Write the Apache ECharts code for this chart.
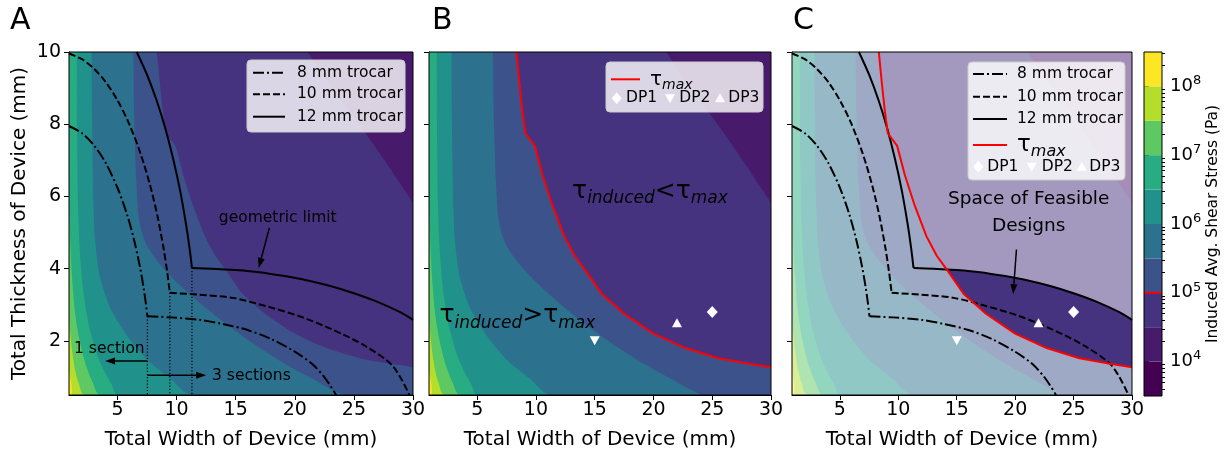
<!DOCTYPE html>
<html><head><meta charset="utf-8">
<script src="https://cdn.jsdelivr.net/npm/echarts@6.0.0/dist/echarts.min.js"></script>
<style>html,body{margin:0;padding:0;background:#fff;}#chart{width:1225px;height:455px;}</style>
</head><body><div id="chart"></div>
<script>
const FONT = 'DejaVu Sans';

// ---------------- axes ----------------
const xMin = 0.9, xMax = 30, yMin = 0.5, yMax = 10;
const xTickValues = [5, 10, 15, 20, 25, 30];
const yTickValues = [2, 4, 6, 8, 10];

// colour bar: band edges as exponents of 10 (Pa)
const levelExponents = [3.5, 4, 4.5, 5, 5.5, 6, 6.5, 7, 7.5, 8, 8.5];
const colorbarTickExponents = [4, 5, 6, 7, 8];
const bandColors = ['#440154', '#481a6c', '#46337f', '#3b528b', '#2c718e', '#21918c', '#27ad81', '#5ec962', '#b5de2b', '#fde725'];
const tauMaxExponent = 5;

// ---------------- filled-contour boundaries (width mm, thickness mm) ----------------
const contour_1e8 = [[0.9, 1.25], [1.0, 1.0], [1.12, 0.75], [1.25, 0.5]];
const contour_1e7_5 = [[0.9, 2.7], [1.0, 2.25], [1.15, 1.75], [1.38, 1.25], [1.7, 0.85], [2.2, 0.5]];
const contour_1e7 = [[0.9, 5.87], [1.0, 4.8], [1.15, 3.8], [1.4, 2.8], [1.8, 2.0], [2.35, 1.3], [2.9, 0.85], [3.5, 0.5]];
const contour_1e6_5 = [[1.55, 10], [1.58, 8], [1.65, 6], [1.8, 4.6], [2.1, 3.4], [2.6, 2.4], [3.3, 1.6], [3.9, 1.15], [4.5, 0.8], [5.0, 0.5]];
const contour_1e6 = [[2.82, 10], [2.86, 8], [2.95, 6], [3.1, 4.8], [3.5, 3.8], [4.4, 2.9], [5.8, 2.15], [7.6, 1.45], [9.5, 0.95], [11.2, 0.5]];
const contour_1e5_5 = [[6.35, 10], [6.42, 8.2], [6.6, 6.4], [6.85, 5.3], [7.4, 4.7], [8.4, 4.2], [10.1, 3.6], [12.5, 2.9], [15.5, 2.15], [18.5, 1.5], [21.5, 0.95], [24.3, 0.5]];
const tauMax = [[8.33, 10], [8.6, 9.1], [8.85, 8.35], [9.1, 7.75], [9.9, 7.4], [10.55, 6.6], [11.4, 5.75], [12.4, 4.9], [13.3, 4.35], [14.2, 3.95], [15.6, 3.3], [17.5, 2.75], [20, 2.2], [22.7, 1.8], [25.5, 1.52], [28, 1.37], [30, 1.27]];
const contour_1e4_5 = [[21.1, 10], [22.5, 9.3], [24.2, 8.55], [26.1, 7.7], [27.9, 6.85], [30, 5.82]];

// ---------------- trocar limits (one-section arc, then three-section arc) ----------------
const trocar8mmOne = [[0.9, 7.95], [2, 7.75], [3, 7.42], [4, 6.93], [5, 6.24], [5.8, 5.51], [6.4, 4.8], [6.9, 4.05], [7.2, 3.49], [7.4, 3.04], [7.53, 2.68]];
const trocar8mmThree = [[7.53, 2.68], [9.5, 2.65], [12, 2.58], [14, 2.46], [16, 2.3], [18, 2.05], [20, 1.7], [21.5, 1.35], [22.6, 0.95], [23.5, 0.5]];
const trocar10mmOne = [[0.9, 9.96], [2, 9.8], [3, 9.54], [4, 9.17], [5, 8.66], [6, 8.0], [7, 7.14], [7.8, 6.26], [8.4, 5.43], [8.9, 4.56], [9.2, 3.92], [9.43, 3.33]];
const trocar10mmThree = [[9.43, 3.33], [11.9, 3.28], [14.75, 3.19], [17.57, 2.96], [20.4, 2.68], [23.2, 2.31], [26, 1.85], [28.3, 1.3], [29.7, 0.5]];
const trocar12mmOne = [[6.63, 10], [7.5, 9.37], [8.3, 8.67], [9.0, 7.94], [9.7, 7.06], [10.3, 6.16], [10.8, 5.23], [11.1, 4.56], [11.3, 4.02]];
const trocar12mmThree = [[11.3, 4.02], [13, 4.0], [15, 3.96], [17, 3.9], [19, 3.8], [21, 3.68], [23, 3.52], [25, 3.32], [27, 3.08], [29, 2.78], [30, 2.58]];
const sectionSplitWidths = [7.53, 9.43, 11.3];
const sectionSplitTops = [2.68, 3.33, 4.02];

// ---------------- design points ----------------
const DP1 = [25, 2.8];
const DP2 = [15, 2.0];
const DP3 = [22, 2.5];
const feasibleStart = [14.2, 3.97];

// ---------------- helpers ----------------
const contourLayers = [
  { pts: null, color: bandColors[9] },
  { pts: contour_1e8, color: bandColors[8] },
  { pts: contour_1e7_5, color: bandColors[7] },
  { pts: contour_1e7, color: bandColors[6] },
  { pts: contour_1e6_5, color: bandColors[5] },
  { pts: contour_1e6, color: bandColors[4] },
  { pts: contour_1e5_5, color: bandColors[3] },
  { pts: tauMax, color: bandColors[2] },
  { pts: contour_1e4_5, color: bandColors[1] }
];

function layerPolygon(p) {
  if (!p) return [[xMin, yMin], [xMax, yMin], [xMax, yMax], [xMin, yMax]];
  const s = p[0], e = p[p.length - 1];
  return p.concat([[xMax, e[1]], [xMax, yMax], [s[0], yMax]]);
}

function contourSeries(g) {
  return {
    type: 'custom', xAxisIndex: g, yAxisIndex: g, clip: true, silent: true, z: 1,
    data: contourLayers.map((l, i) => [xMin, yMin, i]),
    renderItem: (params, api) => {
      const layer = contourLayers[params.dataIndex];
      return { type: 'polygon', shape: { points: layerPolygon(layer.pts).map(q => api.coord(q)), smooth: 0.25 }, style: { fill: layer.color } };
    }
  };
}

function lineSeries(g, data, type, color, width, z, smooth) {
  return {
    type: 'line', xAxisIndex: g, yAxisIndex: g, data: data, showSymbol: false, symbol: 'none',
    clip: true, silent: true, z: z || 4, animation: false, smooth: smooth || false,
    lineStyle: { color: color, width: width, type: type, cap: 'butt' }
  };
}

const dashDot = [11, 3, 2, 3];
const dashed = [7, 3];
const dotted = [1.2, 2];

function trocarSeries(g) {
  return [
    lineSeries(g, trocar8mmOne, dashDot, '#000', 2, 4, 0.3),
    lineSeries(g, trocar8mmThree, dashDot, '#000', 2, 4, 0.3),
    lineSeries(g, trocar10mmOne, dashed, '#000', 2, 4, 0.3),
    lineSeries(g, trocar10mmThree, dashed, '#000', 2, 4, 0.3),
    lineSeries(g, trocar12mmOne, 'solid', '#000', 2, 4, 0.3),
    lineSeries(g, trocar12mmThree, 'solid', '#000', 2, 4, 0.3)
  ];
}

function frameSeries(g) {
  return {
    type: 'custom', xAxisIndex: g, yAxisIndex: g, silent: true, z: 50,
    data: [[0, 0]],
    renderItem: (params) => {
      const c = params.coordSys;
      return { type: 'rect', shape: { x: c.x, y: c.y, width: c.width, height: c.height }, style: { fill: null, stroke: '#000', lineWidth: 1 } };
    }
  };
}

function arrowSeries(g, arrows) {
  return {
    type: 'custom', xAxisIndex: g, yAxisIndex: g, silent: true, z: 8,
    data: arrows.map(a => [a.from[0], a.from[1]]),
    renderItem: (params, api) => {
      const a = arrows[params.dataIndex];
      const p1 = api.coord(a.from), p2 = api.coord(a.to);
      const dx = p2[0] - p1[0], dy = p2[1] - p1[1], L = Math.hypot(dx, dy);
      const ux = dx / L, uy = dy / L, hl = 10, hw = 3.5;
      const b = [p2[0] - ux * hl, p2[1] - uy * hl];
      return {
        type: 'group', children: [
          { type: 'line', shape: { x1: p1[0], y1: p1[1], x2: b[0], y2: b[1] }, style: { stroke: '#000', lineWidth: 1.5 } },
          { type: 'polygon', shape: { points: [p2, [b[0] - uy * hw, b[1] + ux * hw], [b[0] + uy * hw, b[1] - ux * hw]] }, style: { fill: '#000' } }
        ]
      };
    }
  };
}

function textSeries(g, texts) {
  return {
    type: 'custom', xAxisIndex: g, yAxisIndex: g, silent: true, z: 9,
    data: texts.map(t => [t.at[0], t.at[1]]),
    renderItem: (params, api) => {
      const t = texts[params.dataIndex];
      const p = api.coord(t.at);
      return { type: 'text', x: p[0], y: p[1], style: Object.assign({ fontFamily: FONT, fill: '#000', align: 'center', verticalAlign: 'middle' }, t.style) };
    }
  };
}

function markerSeries(g) {
  const base = { type: 'scatter', xAxisIndex: g, yAxisIndex: g, silent: true, z: 7, itemStyle: { color: '#ffffff', opacity: 1 } };
  return [
    Object.assign({}, base, { data: [DP1], symbol: 'diamond', symbolSize: [11, 12] }),
    Object.assign({}, base, { data: [DP2], symbol: 'triangle', symbolSize: [10, 9], symbolRotate: 180 }),
    Object.assign({}, base, { data: [DP3], symbol: 'triangle', symbolSize: [10, 9] })
  ];
}

const tauRich = {
  t: { fontSize: 25, fontFamily: FONT, lineHeight: 32, verticalAlign: 'middle', fill: '#000' },
  s: { fontSize: 17, fontFamily: FONT, fontStyle: 'italic', lineHeight: 17, verticalAlign: 'bottom', fill: '#000' }
};

// ---------------- grids & axes ----------------
const grids = [
  { left: 69, top: 52, width: 344, height: 344 },
  { left: 429, top: 52, width: 342, height: 344 },
  { left: 792, top: 52, width: 340, height: 344 },
  { left: 1144, top: 52, width: 18, height: 344 }
];

const xAxes = [0, 1, 2].map(g => ({
  type: 'value', gridIndex: g, min: xMin, max: xMax,
  axisLine: { show: true, onZero: false, lineStyle: { color: '#000', width: 1 } },
  axisTick: { show: true, customValues: xTickValues, length: 5, lineStyle: { color: '#000', width: 1 } },
  axisLabel: { show: true, customValues: xTickValues, fontSize: 19, color: '#000', fontFamily: FONT, margin: 6 },
  splitLine: { show: false },
  name: 'Total Width of Device (mm)', nameLocation: 'middle', nameGap: 35,
  nameTextStyle: { fontSize: 20, color: '#000', fontFamily: FONT }
}));
xAxes.push({ type: 'value', gridIndex: 3, min: 0, max: 1, show: false });

const minorExps = [];
for (let n = 3; n <= 8; n++) for (let k = 2; k <= 9; k++) { const e = n + Math.log10(k); if (e > 3.5 && e < 8.5) minorExps.push(e); }

const yAxes = [0, 1, 2].map(g => ({
  type: 'value', gridIndex: g, min: yMin, max: yMax,
  axisLine: { show: true, onZero: false, lineStyle: { color: '#000', width: 1 } },
  axisTick: { show: true, customValues: yTickValues, length: 5, lineStyle: { color: '#000', width: 1 } },
  axisLabel: { show: g === 0, customValues: yTickValues, fontSize: 19, color: '#000', fontFamily: FONT, margin: 8 },
  splitLine: { show: false },
  name: g === 0 ? 'Total Thickness of Device (mm)' : '', nameLocation: 'middle', nameGap: 39,
  nameTextStyle: { fontSize: 20, color: '#000', fontFamily: FONT }
}));
yAxes.push({
  type: 'value', gridIndex: 3, min: levelExponents[0], max: levelExponents[levelExponents.length - 1], position: 'right',
  axisLine: { show: false },
  axisTick: { show: true, customValues: colorbarTickExponents, length: 5, lineStyle: { color: '#000' } },
  axisLabel: {
    show: true, customValues: colorbarTickExponents, margin: 8, fontSize: 18, color: '#000', fontFamily: FONT, lineHeight: 24,
    formatter: v => '10{s|' + v + '}',
    rich: { s: { fontSize: 13, fontFamily: FONT, color: '#000', lineHeight: 13, verticalAlign: 'top' } }
  },
  splitLine: { show: false },
  name: 'Induced Avg. Shear Stress (Pa)', nameLocation: 'middle', nameRotate: 90, nameGap: 35,
  nameTextStyle: { fontSize: 15.5, color: '#000', fontFamily: FONT }
});
yAxes.push({
  type: 'value', gridIndex: 3, min: levelExponents[0], max: levelExponents[levelExponents.length - 1], position: 'right',
  axisLine: { show: false },
  axisTick: { show: true, customValues: minorExps, length: 3, lineStyle: { color: '#000' } },
  axisLabel: { show: false }, splitLine: { show: false }
});

// ---------------- series ----------------
const series = [];
[0, 1, 2].forEach(g => { series.push(contourSeries(g)); series.push(frameSeries(g)); });

// panel A
trocarSeries(0).forEach(s => series.push(s));
sectionSplitWidths.forEach((w, i) => series.push(lineSeries(0, [[w, sectionSplitTops[i]], [w, yMin]], dotted, '#000', 1.2)));
series.push(arrowSeries(0, [
  { from: [17.85, 5.13], to: [16.95, 4.02] },
  { from: [7.53, 1.44], to: [3.95, 1.44] },
  { from: [7.53, 1.05], to: [12.5, 1.05] }
]));
series.push(textSeries(0, [
  { at: [18.56, 5.39], style: { text: 'geometric limit', fontSize: 15.5 } },
  { at: [1.33, 1.78], style: { text: '1 section', fontSize: 15.5, align: 'left' } },
  { at: [13.0, 1.03], style: { text: '3 sections', fontSize: 15.5, align: 'left' } }
]));

// panel B
series.push(lineSeries(1, tauMax, 'solid', '#ff0000', 2));
markerSeries(1).forEach(s => series.push(s));
series.push(textSeries(1, [
  { at: [19.7, 6.14], style: { text: '{t|τ}{s|induced}{t|<τ}{s|max}', rich: tauRich } },
  { at: [8.42, 2.69], style: { text: '{t|τ}{s|induced}{t|>τ}{s|max}', rich: tauRich } }
]));

// panel C
series.push({
  type: 'custom', xAxisIndex: 2, yAxisIndex: 2, silent: true, z: 2, data: [[xMin, yMin]],
  renderItem: (params) => { const c = params.coordSys; return { type: 'rect', shape: { x: c.x, y: c.y, width: c.width, height: c.height }, style: { fill: 'rgba(255,255,255,0.5)' } }; }
});
series.push({
  type: 'custom', xAxisIndex: 2, yAxisIndex: 2, silent: true, z: 3, clip: true, data: [[xMin, yMin]],
  renderItem: (params, api) => {
    const top = trocar12mmThree.filter(p => p[0] > feasibleStart[0]);
    const bottom = tauMax.filter(p => p[0] > feasibleStart[0]).slice().reverse();
    const poly = [feasibleStart].concat(top, [[xMax, top[top.length - 1][1]], [xMax, bottom[0][1]]], bottom);
    return { type: 'polygon', shape: { points: poly.map(q => api.coord(q)) }, style: { fill: bandColors[2] } };
  }
});
trocarSeries(2).forEach(s => series.push(s));
series.push(lineSeries(2, tauMax, 'solid', '#ff0000', 2));
markerSeries(2).forEach(s => series.push(s));
series.push(arrowSeries(2, [{ from: [20.11, 4.53], to: [19.83, 3.29] }]));
series.push(textSeries(2, [
  { at: [21.16, 5.91], style: { text: 'Space of Feasible', fontSize: 18.5 } },
  { at: [21.16, 5.17], style: { text: 'Designs', fontSize: 18.5 } }
]));

// colour bar
series.push({
  type: 'custom', xAxisIndex: 3, yAxisIndex: 3, silent: true, z: 1,
  data: bandColors.map((c, i) => [0, levelExponents[i]]),
  renderItem: (params, api) => {
    const i = params.dataIndex;
    const a = api.coord([0, levelExponents[i]]), b = api.coord([1, levelExponents[i + 1]]);
    return { type: 'rect', shape: { x: a[0], y: b[1], width: b[0] - a[0], height: a[1] - b[1] }, style: { fill: bandColors[i] } };
  }
});
series.push(lineSeries(3, [[0, tauMaxExponent], [1, tauMaxExponent]], 'solid', '#ff0000', 2, 5));
series.push(frameSeries(3));

// ---------------- legends & panel letters (graphic) ----------------
const ZL = 100;
function legendLine(x1, x2, y, dash, color) {
  return { type: 'line', z: ZL + 1, shape: { x1: x1, y1: y, x2: x2, y2: y }, style: { stroke: color || '#000', lineWidth: 2, lineDash: dash || [0] } };
}
function legendText(x, y, text, size) {
  return { type: 'text', z: ZL + 1, x: x, y: y, style: { text: text, fontSize: size || 15.5, fontFamily: FONT, fill: '#000', verticalAlign: 'middle' } };
}
function diamond(cx, cy) { return { type: 'polygon', z: ZL + 1, shape: { points: [[cx, cy - 6], [cx + 5, cy], [cx, cy + 6], [cx - 5, cy]] }, style: { fill: '#fff' } }; }
function triUp(cx, cy) { return { type: 'polygon', z: ZL + 1, shape: { points: [[cx, cy - 5], [cx + 5, cy + 4], [cx - 5, cy + 4]] }, style: { fill: '#fff' } }; }
function triDown(cx, cy) { return { type: 'polygon', z: ZL + 1, shape: { points: [[cx, cy + 5], [cx + 5, cy - 4], [cx - 5, cy - 4]] }, style: { fill: '#fff' } }; }
function legendBox(x, y, w, h) {
  return { type: 'rect', z: ZL, shape: { x: x, y: y, width: w, height: h, r: 4 }, style: { fill: 'rgba(255,255,255,0.8)', stroke: '#cccccc', lineWidth: 1 } };
}
function tauLegend(x, y, big, small) {
  return { type: 'text', z: ZL + 1, x: x, y: y, style: { text: '{t|τ}{s|max}', verticalAlign: 'middle', rich: {
    t: { fontSize: big, fontFamily: FONT, lineHeight: big + 6, verticalAlign: 'middle', fill: '#000' },
    s: { fontSize: small, fontFamily: FONT, fontStyle: 'italic', lineHeight: small, verticalAlign: 'bottom', fill: '#000' } } } };
}
function dpRow(y, xs) {
  return [diamond(xs[0], y), legendText(xs[1], y, 'DP1'), triDown(xs[2], y), legendText(xs[3], y, 'DP2'), triUp(xs[4], y), legendText(xs[5], y, 'DP3')];
}

const graphic = [
  { type: 'text', z: ZL, x: 10, y: 6, style: { text: 'A', fontSize: 30, fontFamily: FONT, fill: '#000' } },
  { type: 'text', z: ZL, x: 432, y: 6, style: { text: 'B', fontSize: 30, fontFamily: FONT, fill: '#000' } },
  { type: 'text', z: ZL, x: 793, y: 6, style: { text: 'C', fontSize: 30, fontFamily: FONT, fill: '#000' } },
  legendBox(247, 60, 158, 72),
  legendLine(253, 285, 72.7, dashDot), legendText(297, 72.7, '8 mm trocar'),
  legendLine(253, 285, 94.3, dashed), legendText(297, 94.3, '10 mm trocar'),
  legendLine(253, 285, 116.7, null), legendText(297, 116.7, '12 mm trocar'),
  legendBox(606, 62, 157, 50),
  legendLine(611, 640, 79.3, null, '#ff0000'), tauLegend(650, 79.3, 20, 14)
].concat(dpRow(98.3, [616.7, 626, 670, 679.3, 720, 728.3]), [
  legendBox(968, 62, 157, 118),
  legendLine(973, 1007, 74, dashDot), legendText(1017, 74, '8 mm trocar'),
  legendLine(973, 1007, 96.7, dashed), legendText(1017, 96.7, '10 mm trocar'),
  legendLine(973, 1007, 119, null), legendText(1017, 119, '12 mm trocar'),
  legendLine(973, 1007, 145, null, '#ff0000'), tauLegend(1017, 145, 23, 16)
], dpRow(166.7, [978.3, 987.3, 1031.7, 1041.7, 1081.7, 1089.3]));

const chart = echarts.init(document.getElementById('chart'), null, { renderer: 'canvas' });
chart.setOption({
  animation: false,
  backgroundColor: '#fff',
  textStyle: { fontFamily: FONT },
  grid: grids,
  xAxis: xAxes,
  yAxis: yAxes,
  series: series,
  graphic: { elements: graphic }
});
</script></body></html>
